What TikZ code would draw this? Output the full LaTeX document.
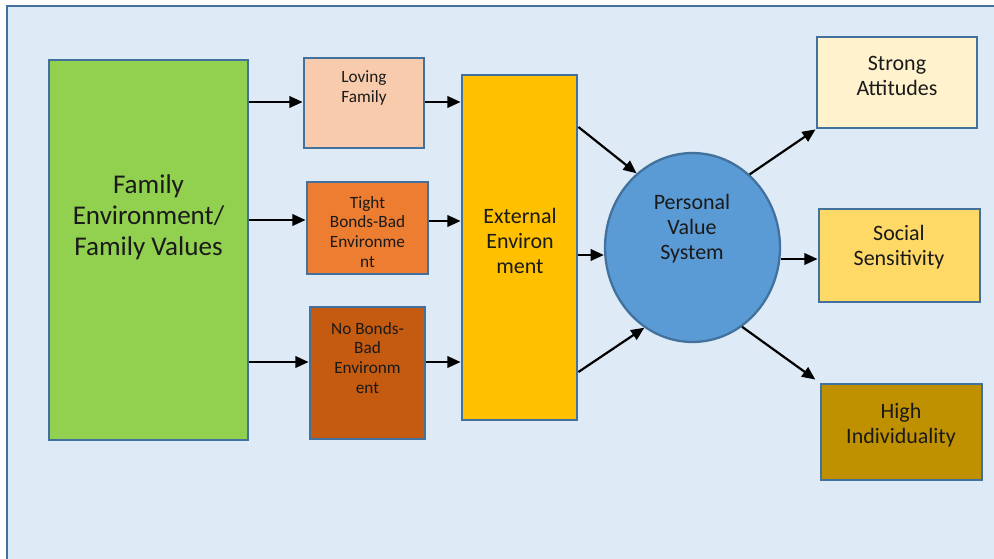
\documentclass[tikz,border=0pt]{standalone}
\usepackage{fontspec}
\setmainfont{Carlito}
\usetikzlibrary{fit,shapes.geometric,arrows.meta}

\definecolor{bgblue}{HTML}{DEEAF6}
\definecolor{edgeblue}{HTML}{41719C}
\definecolor{cgreen}{HTML}{92D050}
\definecolor{cpeach}{HTML}{F8CBAD}
\definecolor{corange}{HTML}{ED7D31}
\definecolor{crust}{HTML}{C55A11}
\definecolor{camber}{HTML}{FFC000}
\definecolor{csky}{HTML}{5B9BD5}
\definecolor{ccream}{HTML}{FFF2CC}
\definecolor{cgold}{HTML}{FFD966}
\definecolor{cbronze}{HTML}{BF9000}
\definecolor{ink}{HTML}{1A1A1A}

\tikzset{
  box/.style={draw=edgeblue, line width=1.6pt, inner sep=0pt, rectangle},
  lbl/.style={align=center, text=ink, inner sep=0pt},
  small/.style={font=\fontsize{9.8}{11.3}\selectfont},
  medium/.style={font=\fontsize{12.5}{14.3}\selectfont},
  large/.style={font=\fontsize{15.4}{17.6}\selectfont},
  arr/.style={-{Triangle[length=7.5pt,width=6.5pt]}, line width=1.25pt, black}
}

\begin{document}
\begin{tikzpicture}[x=0.02cm, y=-0.02cm]
  \useasboundingbox (0,0) rectangle (994,558);
  % outer panel
  \draw[fill=bgblue, draw=edgeblue, line width=1.3pt] (7,6) rectangle (1010,575);

  % boxes
  \node[box, fill=cgreen,  fit={(49,60) (248,440)}]  (green)   {};
  \node[box, fill=cpeach,  fit={(304,58) (424,148)}] (loving)  {};
  \node[box, fill=corange, fit={(307,182) (428,274)}] (tight)  {};
  \node[box, fill=crust,   fit={(310,307) (425,439)}] (nobonds) {};
  \node[box, fill=camber,  fit={(462,75) (577,420)}]  (ext)    {};
  \node[draw=edgeblue, line width=1.3pt, fill=csky, ellipse, inner sep=0pt,
        minimum width=3.5cm, minimum height=3.78cm] (pvs) at (692.5,247.5) {};
  \node[box, fill=ccream,  fit={(817,37) (977,128)}]  (strong) {};
  \node[box, fill=cgold,   fit={(819,209) (980,302)}] (social) {};
  \node[box, fill=cbronze, fit={(821,384) (982,480)}] (high)   {};

  % labels
  \node[lbl, large]  (tgreen)   at (148.5,217) {Family\\Environment/\\Family Values};
  \node[lbl, small]  (tloving)  at (364,88)    {Loving\\Family};
  \node[lbl, small]  (ttight)   at (367.5,232) {Tight\\Bonds-Bad\\Environme\\nt};
  \node[lbl, small]  (tnobonds) at (367.5,358) {No Bonds-\\Bad\\Environm\\ent};
  \node[lbl, medium] (text)     at (520,241)   {External\\Environ\\ment};
  \node[lbl, medium] (tpvs)     at (692,229)   {Personal\\Value\\System};
  \node[lbl, medium] (tstrong)  at (897,76)    {Strong\\Attitudes};
  \node[lbl, medium] (tsocial)  at (899,247)   {Social\\Sensitivity};
  \node[lbl, medium] (thigh)    at (901,425)   {High\\Individuality};

  % family environment to the three family types
  \draw[arr] (green.east |- 0,102) -- (loving.west |- 0,102);
  \draw[arr] (green.east |- 0,220) -- (tight.west |- 0,220);
  \draw[arr] (green.east |- 0,362) -- (nobonds.west |- 0,362);

  % family types to external environment
  \draw[arr] (loving.east |- 0,102) -- (ext.west |- 0,102);
  \draw[arr] (tight.east |- 0,221) -- (ext.west |- 0,221);
  \draw[arr] (nobonds.east |- 0,362) -- (ext.west |- 0,362);

  % external environment to personal value system
  \draw[arr] (ext.east |- 0,127) -- (pvs.127);
  \draw[arr] (ext.east |- 0,255) -- (pvs.west |- 0,255);
  \draw[arr] (ext.east |- 0,372) -- (pvs.239);

  % personal value system to outcomes
  \draw[arr] (pvs.52) -- (strong.south west);
  \draw[arr] (pvs.east |- 0,259) -- (social.west |- 0,259);
  \draw[arr, shorten >=3pt] (pvs.302) -- (high.north west);
\end{tikzpicture}
\end{document}
